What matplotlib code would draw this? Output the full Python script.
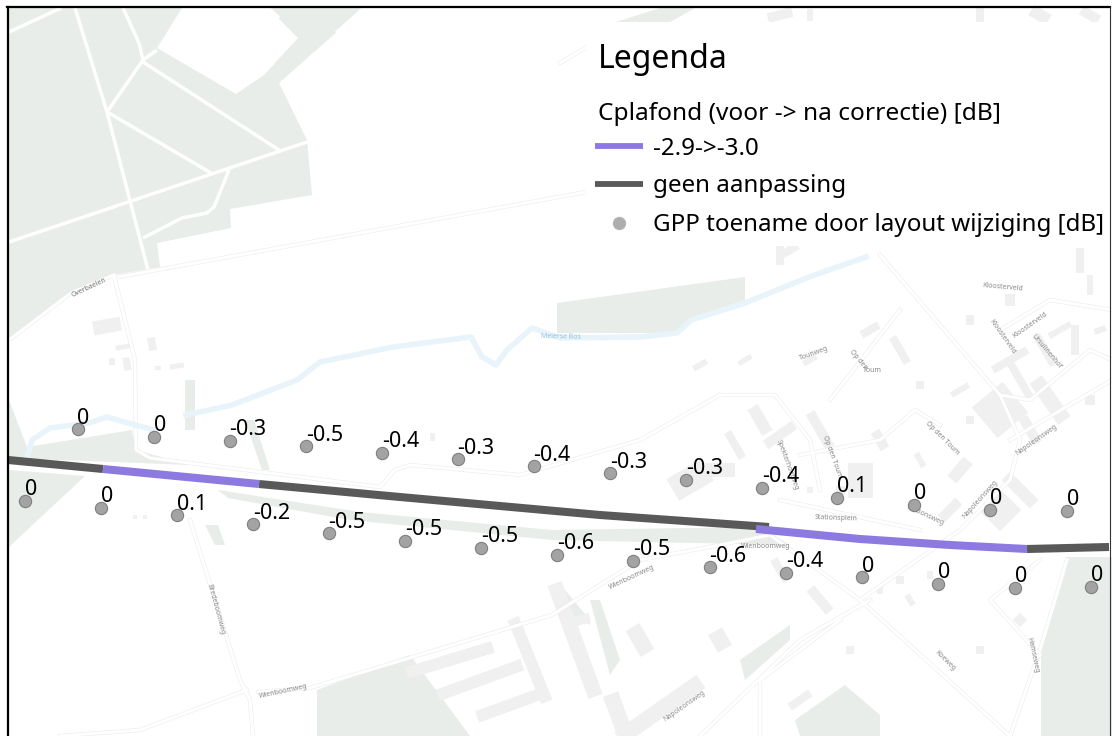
# Map with GPP increase per point and ceiling correction along the railway
import numpy as np
import matplotlib
matplotlib.use("Agg")
import matplotlib.pyplot as plt
from matplotlib.patches import Polygon, Rectangle

plt.rcParams["font.family"] = ["Noto Sans", "DejaVu Sans"]

# ==============================
# 1. Data (image pixel coordinates)
# ==============================

north_x = [77.5, 153.6, 229.6, 305.7, 382, 457.5, 533.6, 610, 686, 762.4, 837.4, 913.8, 990.2, 1066.6]
north_y = [429, 436.7, 440.7, 446.3, 452.7, 459, 466.3, 473, 480, 487.7, 497.7, 504.7, 510, 510.7]
north_val = ["0", "0", "-0.3", "-0.5", "-0.4", "-0.3", "-0.4", "-0.3", "-0.3", "-0.4", "0.1", "0", "0", "0"]

south_x = [24.6, 101, 177, 252.9, 328.6, 405, 481, 556.8, 633.4, 709.5, 786, 862.4, 938.4, 1014.9, 1091.3]
south_y = [500.7, 508, 515, 524.3, 533.3, 540.7, 547.7, 554.7, 560.7, 567, 572.7, 577, 583.7, 587.7, 586.7]
south_val = ["0", "0", "0.1", "-0.2", "-0.5", "-0.5", "-0.5", "-0.6", "-0.5", "-0.6", "-0.4", "0", "0", "0", "0"]

# railway sections
dark_sections = [
    ([8, 103], [460, 469]),
    ([259, 400, 600, 769], [484, 497, 515, 527]),
    ([1027, 1109], [549, 547]),
]
purple_sections = [
    ([103, 259], [469, 484]),
    ([756, 860, 950, 1027], [529, 539, 545, 549]),
]

legend_title = "Legenda"
legend_head = "Cplafond (voor -> na correctie) [dB]"
legend_labels = ["-2.9->-3.0", "geen aanpassing", "GPP toename door layout wijziging [dB]"]

# background map
green_areas = [
    [(9, 8), (364, 8), (279, 83), (307, 140), (312, 195), (230, 209), (231, 228), (157, 243),
     (160, 267), (114, 275), (71, 293), (9, 340)],
    [(557, 303), (745, 277), (745, 300), (691, 320), (677, 333), (641, 333), (557, 333)],
    [(9, 400), (27, 447), (132, 430), (136, 450), (190, 465), (9, 458)],
    [(9, 470), (85, 476), (9, 547)],
    [(218, 490), (360, 512), (552, 530), (760, 527), (790, 545), (552, 540), (350, 520), (228, 498)],
    [(1066, 557), (1112, 557), (1112, 736), (1041, 736), (1041, 653), (1066, 570)],
    [(317, 690), (410, 655), (470, 736), (317, 736)],
    [(740, 660), (790, 625), (790, 640), (745, 680)],
    [(795, 720), (845, 685), (880, 715), (880, 736), (800, 736)],
    [(590, 600), (600, 600), (620, 660), (610, 675)],
    [(205, 525), (218, 525), (225, 545), (215, 545)],
    [(565, 590), (590, 620), (590, 625), (560, 610)],
    [(185, 380), (195, 380), (195, 430), (185, 430)],
    [(245, 420), (254, 420), (270, 470), (262, 470)],
    [(616, 22), (670, 22), (695, 8), (660, 8)],
]
white_roads = [
    [(75, 8), (107, 112), (148, 270)],
    [(123, 8), (139, 43), (143, 60), (107, 112)],
    [(143, 60), (157, 50)],
    [(143, 62), (279, 150)],
    [(109, 113), (211, 173)],
    [(9, 242), (307, 142), (404, 110), (500, 78), (532, 78), (560, 63)],
    [(9, 32), (61, 8)],
    [(229, 170), (214, 207), (207, 213), (182, 218), (143, 238)],
    [(268, 8), (279, 18)],
    [(364, 8), (336, 33)],
]
map_lines = [
    [(118, 277), (586, 192)],
    [(560, 63), (590, 45)],
    [(9, 340), (71, 293), (114, 275)],
    [(114, 276), (135, 360), (136, 450), (150, 458), (380, 487), (395, 470), (410, 465), (520, 475), (640, 440), (720, 395)],
    [(190, 520), (240, 680), (250, 700), (253, 736)],
    [(247, 690), (140, 730), (60, 736)],
    [(258, 692), (310, 688), (552, 615), (640, 560), (720, 545), (770, 535), (860, 600), (1010, 736)],
    [(1067, 560), (1040, 650), (1010, 736)],
    [(860, 600), (960, 530), (1010, 480), (1020, 440), (1000, 395), (880, 255)],
    [(700, 736), (800, 640), (870, 600)],
    [(760, 736), (760, 680), (840, 620)],
    [(720, 395), (775, 395), (810, 440), (820, 490)],
    [(780, 500), (920, 530)],
    [(800, 455), (880, 440), (915, 410), (940, 425)],
    [(830, 400), (900, 310)],
    [(1010, 440), (1112, 380)],
    [(1000, 395), (1030, 400), (1090, 350), (1112, 360)],
    [(1000, 330), (1050, 300), (1112, 310)],
    [(1040, 560), (990, 600), (1040, 655)],
]
river = [
    [(27, 458), (32, 440), (50, 428), (89, 423), (107, 417), (128, 423), (154, 430)],
    [(186, 415), (232, 405), (297, 380), (320, 362), (393, 347), (471, 337), (482, 357),
     (496, 365), (507, 350), (532, 328), (560, 338), (641, 337), (677, 333), (691, 320),
     (745, 303), (809, 277), (866, 257)],
]
# centre x, centre y, width, height, angle
buildings = [
    (107, 326, 14, 28, 80), (123, 347, 15, 5, -10), (112, 361, 6, 7, 0), (127, 364, 7, 13, -10),
    (152, 344, 8, 13, -10), (177, 366, 14, 5, -10), (158, 368, 6, 4, 0), (135, 517, 4, 4, 0),
    (145, 517, 4, 4, 0), (432, 437, 5, 8, 0),
    (450, 660, 90, 12, -17), (480, 680, 90, 12, -20), (510, 705, 70, 12, -20),
    (530, 660, 12, 90, -22), (575, 640, 15, 120, -20), (620, 720, 16, 55, -20),
    (660, 710, 100, 16, -35), (580, 620, 20, 10, -15), (720, 470, 30, 14, 0),
    (690, 480, 40, 25, -30), (810, 490, 6, 6, 0), (860, 480, 25, 35, 0), (840, 490, 9, 9, 0),
    (950, 510, 25, 10, -45), (1000, 510, 30, 30, 45), (1020, 490, 12, 40, -45),
    (1000, 410, 40, 40, -40), (1030, 430, 10, 30, -30), (1050, 400, 15, 50, -35),
    (1090, 400, 10, 10, 0), (780, 435, 35, 10, -35), (820, 430, 10, 40, -30),
    (880, 440, 10, 20, -30), (920, 460, 6, 15, -30), (960, 470, 12, 25, 40),
    (760, 420, 12, 30, -30), (735, 445, 8, 30, -30), (970, 420, 8, 8, 0), (960, 390, 20, 6, -30),
    (1010, 360, 40, 8, -30), (1020, 380, 8, 40, -30), (1045, 350, 8, 35, -30), (1075, 340, 8, 30, 0),
    (1100, 330, 12, 6, -20), (1060, 330, 25, 6, -30), (970, 320, 8, 10, 0), (1010, 300, 10, 12, 0),
    (1080, 260, 8, 25, 0), (1090, 285, 6, 20, 0), (780, 255, 8, 20, 0), (790, 250, 18, 8, -30),
    (810, 360, 15, 6, -30), (870, 330, 20, 8, -30), (900, 350, 8, 30, -30), (920, 385, 8, 8, 0),
    (745, 360, 15, 5, -30), (700, 365, 15, 6, -30), (780, 570, 8, 25, -30), (820, 600, 10, 30, -40),
    (880, 590, 6, 8, 0), (900, 580, 8, 8, 0), (910, 600, 6, 12, -30), (930, 575, 6, 8, 0),
    (980, 650, 8, 8, 0), (1020, 620, 10, 10, 45), (850, 650, 8, 8, 0),
    (720, 640, 16, 20, -30), (640, 640, 16, 30, -30), (800, 700, 25, 8, -35),
    (780, 15, 25, 10, -15), (810, 15, 6, 12, 0), (980, 15, 8, 14, 0), (1040, 15, 20, 12, 30), (1090, 15, 20, 10, 30),
]
map_names = [
    ("Overbaelen", 89, 288, 25, "#777777"),
    ("Meierse Bos", 561, 337, -1, "#8fc0dc"),
    ("Tounweg", 814, 354, 20, "#888888"),
    ("Op den", 858, 360, -50, "#888888"),
    ("Toum", 872, 371, 0, "#888888"),
    ("Kloosterveld", 1030, 325, 35, "#888888"),
    ("Kloosterveld", 1003, 287, -5, "#888888"),
    ("Kloosterveld", 1002, 337, -55, "#888888"),
    ("Ursulinenhof", 1046, 352, -50, "#888888"),
    ("Spekterhoefweg", 787, 465, -70, "#888888"),
    ("Op den Toum", 832, 457, -70, "#888888"),
    ("Op den Toum", 942, 438, -45, "#888888"),
    ("Stationsplein", 836, 518, -2, "#888888"),
    ("Stationsweg", 925, 515, -25, "#888888"),
    ("Napoleonsweg", 1036, 440, 35, "#888888"),
    ("Napoleonsweg", 980, 499, 48, "#888888"),
    ("Wienboomweg", 766, 547, 0, "#888888"),
    ("Wienboomweg", 632, 577, 25, "#888888"),
    ("Wienboomweg", 283, 691, 12, "#888888"),
    ("Bredeboomweg", 216, 609, -75, "#888888"),
    ("Koeweg", 945, 661, -45, "#888888"),
    ("Hamseweg", 1033, 655, -78, "#888888"),
    ("Napoleonsweg", 684, 706, 35, "#888888"),
]

# ==============================
# 2. Plot
# ==============================

fig = plt.figure(figsize=(11.12, 7.36), dpi=100, facecolor="white")
ax = fig.add_axes([0, 0, 1, 1])
ax.set_xlim(0, 1112)
ax.set_ylim(736, 0)
ax.axis("off")

for area in green_areas:
    ax.add_patch(Polygon(area, closed=True, facecolor="#e8ede9", edgecolor="none", zorder=1))

ax.add_patch(Polygon([(182, 8), (157, 48), (236, 94), (264, 75), (298, 38), (268, 8)],
                     closed=True, facecolor="white", edgecolor="none", zorder=1.1))

for road in white_roads:
    xs, ys = zip(*road)
    ax.plot(xs, ys, color="white", lw=2.5, solid_capstyle="butt", zorder=1.5)

for cx, cy, w, h, angle in buildings:
    t = np.radians(angle)
    dx = np.array([-w, w, w, -w]) / 2
    dy = np.array([-h, -h, h, h]) / 2
    px = cx + dx * np.cos(t) - dy * np.sin(t)
    py = cy + dx * np.sin(t) + dy * np.cos(t)
    ax.add_patch(Polygon(np.c_[px, py], closed=True, facecolor="#f0f0f0", edgecolor="none", zorder=2))

for line in map_lines:
    xs, ys = zip(*line)
    ax.plot(xs, ys, color="#ececec", lw=3.0, zorder=2.1)
    ax.plot(xs, ys, color="white", lw=2.2, zorder=2.2)

for part in river:
    xs, ys = zip(*part)
    ax.plot(xs, ys, color="#e9f4fa", lw=4, zorder=2.3)

for name, x, y, rot, col in map_names:
    ax.text(x, y, name, fontsize=5, color=col, rotation=rot, ha="center", va="center",
            rotation_mode="anchor", zorder=2.5)

for xs, ys in dark_sections:
    ax.plot(xs, ys, color="#595959", lw=5.8, solid_capstyle="butt", zorder=3)
for xs, ys in purple_sections:
    ax.plot(xs, ys, color="#8c7ae0", lw=5.8, solid_capstyle="butt", zorder=3.1)

ax.scatter(north_x + south_x, north_y + south_y, s=78, color="#a3a3a3", edgecolor="#7f7f7f",
           linewidth=0.8, zorder=4)
for x, y, val in zip(north_x + south_x, north_y + south_y, north_val + south_val):
    ax.text(x, y - 5.5, val, fontsize=15.5, color="black", ha="left", va="baseline", zorder=5)

# legend box
ax.add_patch(Rectangle((586, 22), 524, 224, facecolor="white", edgecolor="none", zorder=6))
ax.text(598, 68, legend_title, fontsize=23, ha="left", va="baseline", zorder=7)
ax.text(598, 120, legend_head, fontsize=17.6, ha="left", va="baseline", zorder=7)
ax.plot([595, 643], [146, 146], color="#8c7ae0", lw=4.2, solid_capstyle="butt", zorder=7)
ax.text(653, 155, legend_labels[0], fontsize=17.4, ha="left", va="baseline", zorder=7)
ax.plot([595, 643], [184, 184], color="#595959", lw=4.2, solid_capstyle="butt", zorder=7)
ax.text(653, 192, legend_labels[1], fontsize=17.4, ha="left", va="baseline", zorder=7)
ax.scatter([619], [223], s=78, color="#adadad", edgecolor="#b5b5b5", linewidth=0.8, zorder=7)
ax.text(653, 231, legend_labels[2], fontsize=17.4, ha="left", va="baseline", zorder=7)

# map frame
ax.plot([7.5, 7.5], [736, 7], color="black", lw=1.6, zorder=8)
ax.plot([7, 1110], [7, 7], color="black", lw=1.6, zorder=8)
ax.plot([1110, 1110], [7, 736], color="#333333", lw=0.8, zorder=8)

fig.savefig("out.png", dpi=100)
